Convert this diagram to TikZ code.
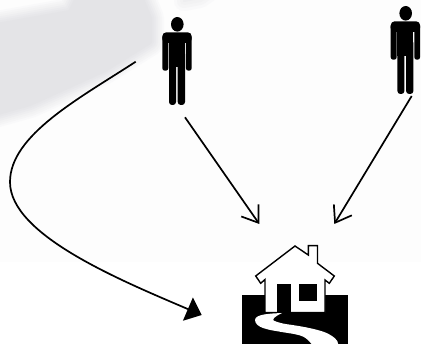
\documentclass[tikz,border=0pt]{standalone}
\usepackage{xcolor}
\usetikzlibrary{arrows.meta, positioning}
\definecolor{paperwhite}{RGB}{253, 253, 253}
\definecolor{smudgegray}{RGB}{228, 228, 231}

\begin{document}
\begin{tikzpicture}[
    x=1pt, y=-1pt,
    flow/.style={draw=black, line width=1.7pt},
    openhead/.style={flow, -{Straight Barb[length=15pt, width=21pt, line width=1.7pt]}},
    solidhead/.style={flow, -{Triangle[length=15pt, width=25pt]}},
    anchorbox/.style={inner sep=0pt, minimum width=1pt, minimum height=1pt},
    manfigure/.pic={
        \fill[black] (0,-36.7) ellipse [x radius=6.3pt, y radius=7.3pt];
        \fill[black, rounded corners=4pt] (-15,-28.7) rectangle (14.4,-18);
        \fill[black, rounded corners=2.5pt] (-15,-26) rectangle (-9,9.7);
        \fill[black, rounded corners=2.5pt] (8.6,-26) rectangle (14.4,9.7);
        \fill[black] (-8.3,-26) rectangle (7.7,6);
        \fill[black, rounded corners=3pt] (-8.3,-10) rectangle (-1.3,44);
        \fill[black, rounded corners=3pt] (0.4,-10) rectangle (7.7,44);
    },
    housefigure/.pic={
        \fill[black] (-53.3,0) rectangle (53.3,49.3);
        \draw[black, fill=white, line width=1.4pt, line join=miter]
            (-30,17.7) -- (-30,-15.5) -- (-34.3,-11.7) -- (-39.3,-19) -- (0,-49)
            -- (13.3,-40) -- (13.3,-49.3) -- (22.5,-49.3) -- (22.5,-31.7)
            -- (39.3,-19) -- (34.3,-11.7) -- (30,-15) -- (30,17.7) -- cycle;
        \fill[black] (-17.7,-11) rectangle (-4,17.7);
        \fill[black] (4.3,-11) rectangle (22.3,6);
        \fill[white] (-13,18) .. controls (-24,18.5) and (-40,19) .. (-40,25)
            .. controls (-40,29) and (-36,31.5) .. (-32,33)
            .. controls (-25,35.5) and (-18,36) .. (-11.7,37.3)
            .. controls (-4,38.5) and (4,39.5) .. (8.3,41.7)
            .. controls (12,43.5) and (15,47) .. (16.7,49.3)
            -- (43.3,49.3)
            .. controls (43,47) and (42,45) .. (40,43.3)
            .. controls (36,40) and (32,38) .. (28.3,36.7)
            .. controls (20,34) and (10,32) .. (1.7,30.7)
            .. controls (-5,29.5) and (-12,29) .. (-16.7,27.3)
            .. controls (-21,26) and (-23,25) .. (-21.7,24)
            .. controls (-20,21.5) and (-16,19.5) .. (-13,18) -- cycle;
    }
]
    % ==================== BACKGROUND ====================
    \useasboundingbox (0,0) rectangle (421,347);
    \fill[white] (0,0) rectangle (421,347);
    \fill[paperwhite] (0,0) rectangle (421,262);
    % soft edge of the smudge, widest and palest first
    \begin{scope}
        \clip (0,0) rectangle (421,347);
        \foreach \w/\t in {28/15,24/30,20/45,16/60,12/75,8/88,4/100} {
            \filldraw[draw=smudgegray!\t!paperwhite, fill=smudgegray!\t!paperwhite,
                line width=\w pt, line join=round]
                (-20,28) -- (70,12) -- (86,-20) -- (134,-20) -- (150,18) -- (150,42)
                -- (105,70) -- (30,104) -- (-20,118) -- cycle;
        }
        \foreach \w/\t in {20/15,14/30,8/45,2/60} {
            \filldraw[draw=smudgegray!\t!paperwhite, fill=smudgegray!\t!paperwhite,
                line width=\w pt, line join=round]
                (186,-20) -- (226,-20) -- (200,-2) -- (184,1) -- cycle;
        }
    \end{scope}

    % ==================== PEOPLE ====================
    \node[anchorbox] (manleft) at (177.3,61) {};
    \node[anchorbox] (manright) at (405.7,50) {};
    \pic at (manleft) {manfigure};
    \pic at (manright) {manfigure};

    % ==================== HOUSE ====================
    \node[anchorbox] (house) at (295,295) {};
    \pic at (house) {housefigure};

    % ==================== CONNECTOR ENDS ====================
    \coordinate (leftfree) at (135.7,61.7);
    \coordinate (leftbend) at (10,182);
    \coordinate (leftdoor) at (201.7,315);
    \coordinate (manleftfoot) at (185,117.3);
    \coordinate (manrightfoot) at (411.7,96);
    \coordinate (housetopleft) at (259.3,224);
    \coordinate (housetopright) at (334.3,224);

    % ==================== ARROWS ====================
    \draw[solidhead] (leftfree) .. controls (80,98) and (10,135) .. (leftbend)
        .. controls (10,235) and (120,280) .. (leftdoor);
    \draw[openhead] (manleftfoot) -- (housetopleft);
    \draw[openhead] (manrightfoot) -- (housetopright);
\end{tikzpicture}
\end{document}
